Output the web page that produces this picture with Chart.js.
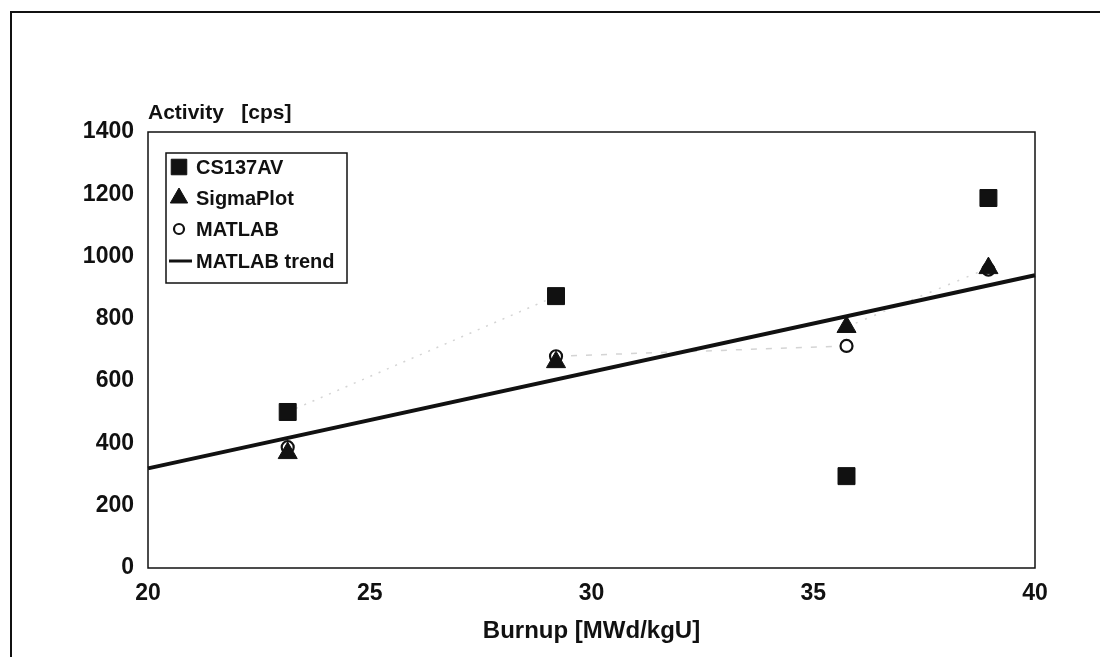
<!DOCTYPE html>
<html>
<head>
<meta charset="utf-8">
<script src="https://cdn.jsdelivr.net/npm/chart.js@4"></script>
<style>
  html, body { margin: 0; padding: 0; background: #fff; }
  #wrap { position: relative; width: 1100px; height: 657px; overflow: hidden; }
  #frame {
    position: absolute; left: 10px; top: 11px; width: 1100px; height: 700px;
    border-left: 2px solid #111; border-top: 2px solid #111; box-sizing: border-box;
  }
  canvas { position: absolute; left: 0; top: 0; }
</style>
</head>
<body>
<div id="wrap">
  <div id="frame"></div>
  <canvas id="chart" width="1100" height="657"></canvas>
</div>
<script>
// Burnup values of the four measured assemblies
const burnup = [23.15, 29.2, 35.75, 38.95];

// Activity values per evaluation method
const cs137av = [501, 873, 295, 1188];
const sigmaPlot = [369, 661, 774, 963];
const matlab = [388, 680, 713, 958];

// Linear trend fitted to the MATLAB values (end points at the axis limits)
const trendX = [20, 40];
const trendY = [320, 940];

const yTicks = [0, 200, 400, 600, 800, 1000, 1200, 1400];
const xTicks = [20, 25, 30, 35, 40];

const FONT = '"Liberation Sans", Arial, sans-serif';
const INK = '#111';
const FAINT = 'rgba(160,160,160,0.45)';
const NONE = 'rgba(0,0,0,0)';

const toPoints = (xs, ys) => xs.map((x, i) => ({ x: x, y: ys[i] }));

// Legend box, caption and axis frame drawn on the canvas
const framePlugin = {
    id: 'framePlugin',
    afterDatasetsDraw(chart) {
        const { ctx, chartArea: a } = chart;
        ctx.save();
        ctx.strokeStyle = INK;
        ctx.lineWidth = 1.5;
        ctx.strokeRect(a.left, a.top, a.right - a.left, a.bottom - a.top);

        // y axis caption above the plot
        ctx.fillStyle = INK;
        ctx.font = 'bold 21px ' + FONT;
        ctx.textBaseline = 'middle';
        ctx.textAlign = 'left';
        ctx.fillText('Activity   [cps]', a.left, 113);

        // legend
        const lx = 166, ly = 153, lw = 181, lh = 130;
        ctx.fillStyle = '#fff';
        ctx.fillRect(lx, ly, lw, lh);
        ctx.lineWidth = 1.5;
        ctx.strokeRect(lx, ly, lw, lh);

        const rows = [167, 198, 229, 261];
        chart.data.datasets.forEach((ds, i) => {
            const y = rows[i];
            const mx = 179;
            ctx.fillStyle = ds.pointBackgroundColor;
            ctx.strokeStyle = ds.pointBorderColor;
            if (ds.legendLine) {
                ctx.lineWidth = 3;
                ctx.strokeStyle = INK;
                ctx.beginPath();
                ctx.moveTo(169, y);
                ctx.lineTo(192, y);
                ctx.stroke();
            } else {
                ctx.lineWidth = ds.pointBorderWidth;
                Chart.helpers.drawPoint(ctx, {
                    pointStyle: ds.pointStyle,
                    radius: ds.legendRadius,
                    borderWidth: ds.pointBorderWidth
                }, mx, y);
            }
            ctx.fillStyle = INK;
            ctx.font = 'bold 20px ' + FONT;
            ctx.textBaseline = 'middle';
            ctx.fillText(ds.label, 196, y + 1);
        });
        ctx.restore();
    }
};

const chart = new Chart(document.getElementById('chart'), {
    type: 'scatter',
    data: {
        datasets: [
            {
                label: 'CS137AV',
                data: toPoints(burnup, cs137av),
                pointStyle: 'rect',
                pointRadius: 12,
                legendRadius: 11,
                pointBackgroundColor: INK,
                pointBorderColor: INK,
                pointBorderWidth: 1,
                showLine: true,
                borderColor: FAINT,
                borderWidth: 1.5,
                borderDash: [2, 7],
                segment: {
                    borderColor: c => c.p0DataIndex === 0 ? FAINT : NONE
                },
                order: 3
            },
            {
                label: 'SigmaPlot',
                data: toPoints(burnup, sigmaPlot),
                pointStyle: 'triangle',
                pointRadius: 11,
                legendRadius: 10,
                pointBackgroundColor: INK,
                pointBorderColor: INK,
                pointBorderWidth: 1,
                showLine: true,
                borderColor: FAINT,
                borderWidth: 1.5,
                borderDash: [2, 8],
                segment: {
                    borderColor: c => c.p0DataIndex === 2 ? FAINT : NONE
                },
                order: 1.5
            },
            {
                label: 'MATLAB',
                data: toPoints(burnup, matlab),
                pointStyle: 'circle',
                pointRadius: 6,
                legendRadius: 5,
                pointBackgroundColor: '#fff',
                pointBorderColor: INK,
                pointBorderWidth: 2.2,
                showLine: true,
                borderColor: FAINT,
                borderWidth: 1.5,
                borderDash: [6, 9],
                segment: {
                    borderColor: c => c.p0DataIndex === 1 ? FAINT : NONE
                },
                order: 2
            },
            {
                label: 'MATLAB trend',
                data: toPoints(trendX, trendY),
                showLine: true,
                legendLine: true,
                borderColor: INK,
                borderWidth: 4,
                pointRadius: 0,
                pointBackgroundColor: INK,
                pointBorderColor: INK,
                pointBorderWidth: 0,
                order: 1
            }
        ]
    },
    options: {
        responsive: false,
        animation: false,
        clip: false,
        layout: { padding: { left: 0, right: 65, top: 132, bottom: 0 } },
        plugins: {
            legend: { display: false },
            tooltip: { enabled: false }
        },
        scales: {
            x: {
                type: 'linear',
                min: 20,
                max: 40,
                afterBuildTicks: axis => { axis.ticks = xTicks.map(v => ({ value: v })); },
                afterFit: axis => { axis.height = 89; },
                grid: { display: false, drawTicks: false },
                border: { display: false },
                ticks: {
                    color: INK,
                    padding: 12,
                    font: { family: FONT, size: 23, weight: 'bold' },
                    callback: v => String(v)
                },
                title: {
                    display: true,
                    text: 'Burnup [MWd/kgU]',
                    color: INK,
                    font: { family: FONT, size: 24, weight: 'bold' },
                    padding: { top: 0, bottom: 11 }
                }
            },
            y: {
                type: 'linear',
                min: 0,
                max: 1400,
                afterBuildTicks: axis => { axis.ticks = yTicks.map(v => ({ value: v })); },
                afterFit: axis => { axis.width = 148; },
                grid: { display: false, drawTicks: false },
                border: { display: false },
                ticks: {
                    color: INK,
                    padding: 14,
                    font: { family: FONT, size: 23, weight: 'bold' },
                    callback: v => String(v)
                }
            }
        }
    },
    plugins: [framePlugin]
});
</script>
</body>
</html>
